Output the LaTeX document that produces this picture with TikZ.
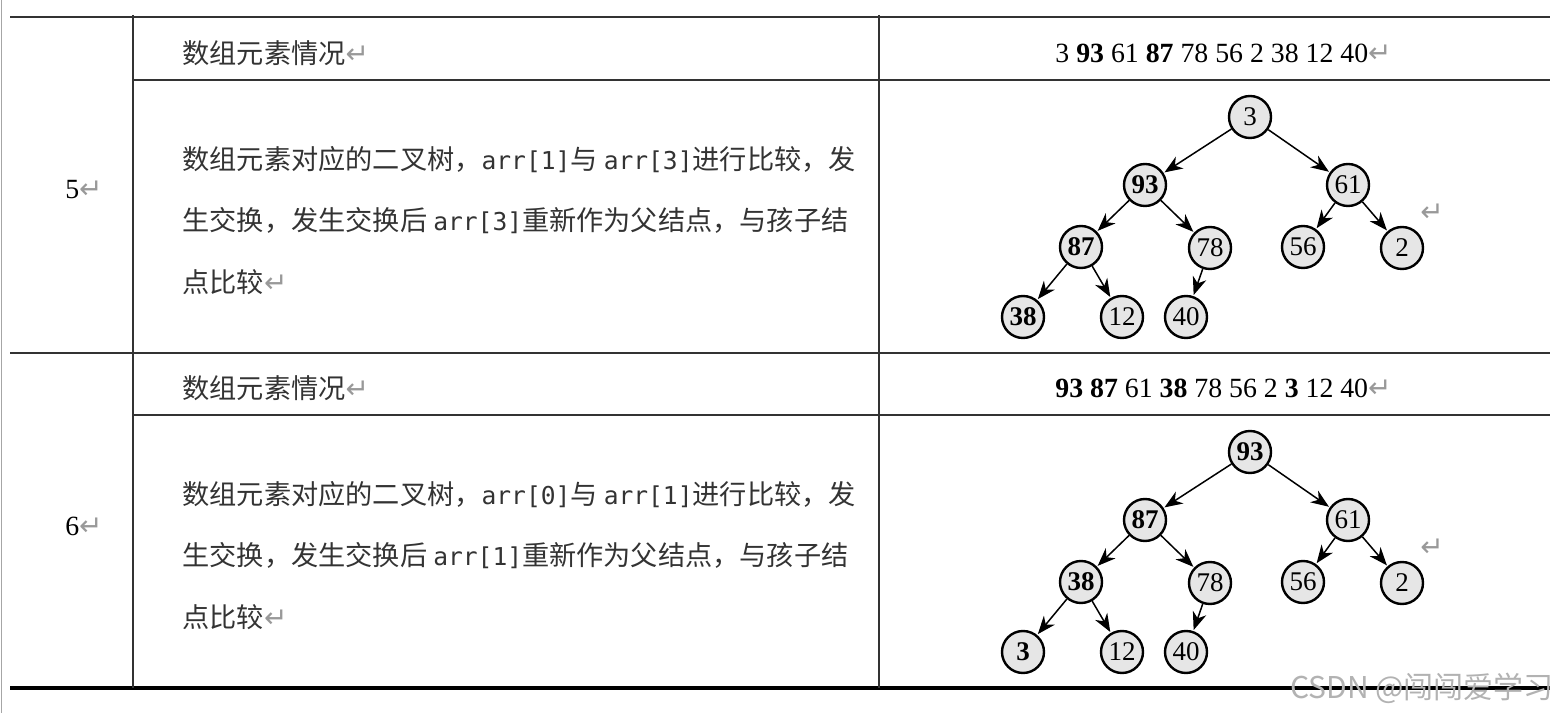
\documentclass[tikz,border=0pt]{standalone}
\usepackage{fontspec}
\setmainfont{Liberation Serif}
\newfontfamily\cjk{Noto Sans CJK SC}
\newfontfamily\codefont{DejaVu Sans Mono}
\newfontfamily\symfont{DejaVu Sans}
\usetikzlibrary{arrows.meta}
\definecolor{keyFill}{HTML}{E6E6E6}
\definecolor{txtGray}{HTML}{333333}
\newcommand{\ret}{{\symfont\color{black!40}\fontsize{14}{14}\selectfont ↵}}
\newcommand{\code}[1]{{\codefont\fontsize{12.3}{15}\selectfont #1}}

\begin{document}
\begin{tikzpicture}[x=0.5pt, y=-0.5pt,
    key/.style={circle, draw, line width=1.2pt, fill=keyFill, minimum size=21pt, inner sep=0pt,
      font=\fontsize{13.5}{14}\selectfont},
    hot/.style={key, font=\fontsize{13.5}{14}\selectfont\bfseries},
    edge/.style={-{Stealth[length=9pt, width=7pt, inset=2.8pt]}, line width=0.75pt, shorten >=0.5pt},
    rule/.style={line width=1pt, black!80},
    cell/.style={anchor=west, inner sep=0pt, text=txtGray, font=\cjk\fontsize{13.6}{16}\selectfont},
    nums/.style={anchor=west, inner sep=0pt, font=\fontsize{13.9}{16}\selectfont}]
  \useasboundingbox (0,0) rectangle (1559,715);

  % table rules
  \draw[black!35, line width=0.5pt] (1,0) -- (1,713);
  \draw[rule] (10,17) -- (1550,17);
  \draw[rule] (133,80) -- (1550,80);
  \draw[rule] (10,353) -- (1550,353);
  \draw[rule] (133,415) -- (1550,415);
  \draw[line width=1.8pt] (10,688) -- (1550,688);
  \draw[rule] (133,15) -- (133,688);
  \draw[rule] (879,15) -- (879,688);

  % step 5
  \node[nums, anchor=center] (s5) at (84,190) {5\ret};
  \node[cell] (h5) at (182,53) {数组元素情况\ret};
  \node[nums] (a5) at (1055,53) {3 \textbf{93} 61 \textbf{87} 78 56 2 38 12 40\ret};
  \node[cell] (d5a) at (182,160) {数组元素对应的二叉树，\code{arr[1]}与 \code{arr[3]}进行比较，发};
  \node[cell] (d5b) at (182,221) {生交换，发生交换后 \code{arr[3]}重新作为父结点，与孩子结};
  \node[cell] (d5c) at (182,282) {点比较\ret};
  \node (r5) at (1432,213) {\ret};

  \foreach \v/\x/\y/\s [count=\i from 0] in {3/1250/117/key, 93/1145/185/hot, 61/1348/185/key,
      87/1081/247/hot, 78/1210/248/key, 56/1303/247/key, 2/1402/248/key,
      38/1023/317/hot, 12/1122/317/key, 40/1186/317/key}
    \node[\s] (p\i) at (\x,\y) {\v};
  \foreach \c in {1,...,9} {
    \pgfmathtruncatemacro{\p}{(\c-1)/2}
    \draw[edge] (p\p) -- (p\c);
  }

  % step 6
  \node[nums, anchor=center] (s6) at (84,526) {6\ret};
  \node[cell] (h6) at (182,388) {数组元素情况\ret};
  \node[nums] (a6) at (1055,388) {\textbf{93 87} 61 \textbf{38} 78 56 2 \textbf{3} 12 40\ret};
  \node[cell] (d6a) at (182,495) {数组元素对应的二叉树，\code{arr[0]}与 \code{arr[1]}进行比较，发};
  \node[cell] (d6b) at (182,556) {生交换，发生交换后 \code{arr[1]}重新作为父结点，与孩子结};
  \node[cell] (d6c) at (182,617) {点比较\ret};
  \node (r6) at (1432,548) {\ret};

  \foreach \v/\x/\y/\s [count=\i from 0] in {93/1250/452/hot, 87/1145/520/hot, 61/1348/520/key,
      38/1081/582/hot, 78/1210/583/key, 56/1303/582/key, 2/1402/583/key,
      3/1023/652/hot, 12/1122/652/key, 40/1186/652/key}
    \node[\s] (q\i) at (\x,\y) {\v};
  \foreach \c in {1,...,9} {
    \pgfmathtruncatemacro{\p}{(\c-1)/2}
    \draw[edge] (q\p) -- (q\c);
  }

  % watermark
  \node[text=black!30, font=\cjk\fontsize{15}{16}\selectfont] (wm) at (1422,688) {CSDN @闯闯爱学习};
\end{tikzpicture}
\end{document}
